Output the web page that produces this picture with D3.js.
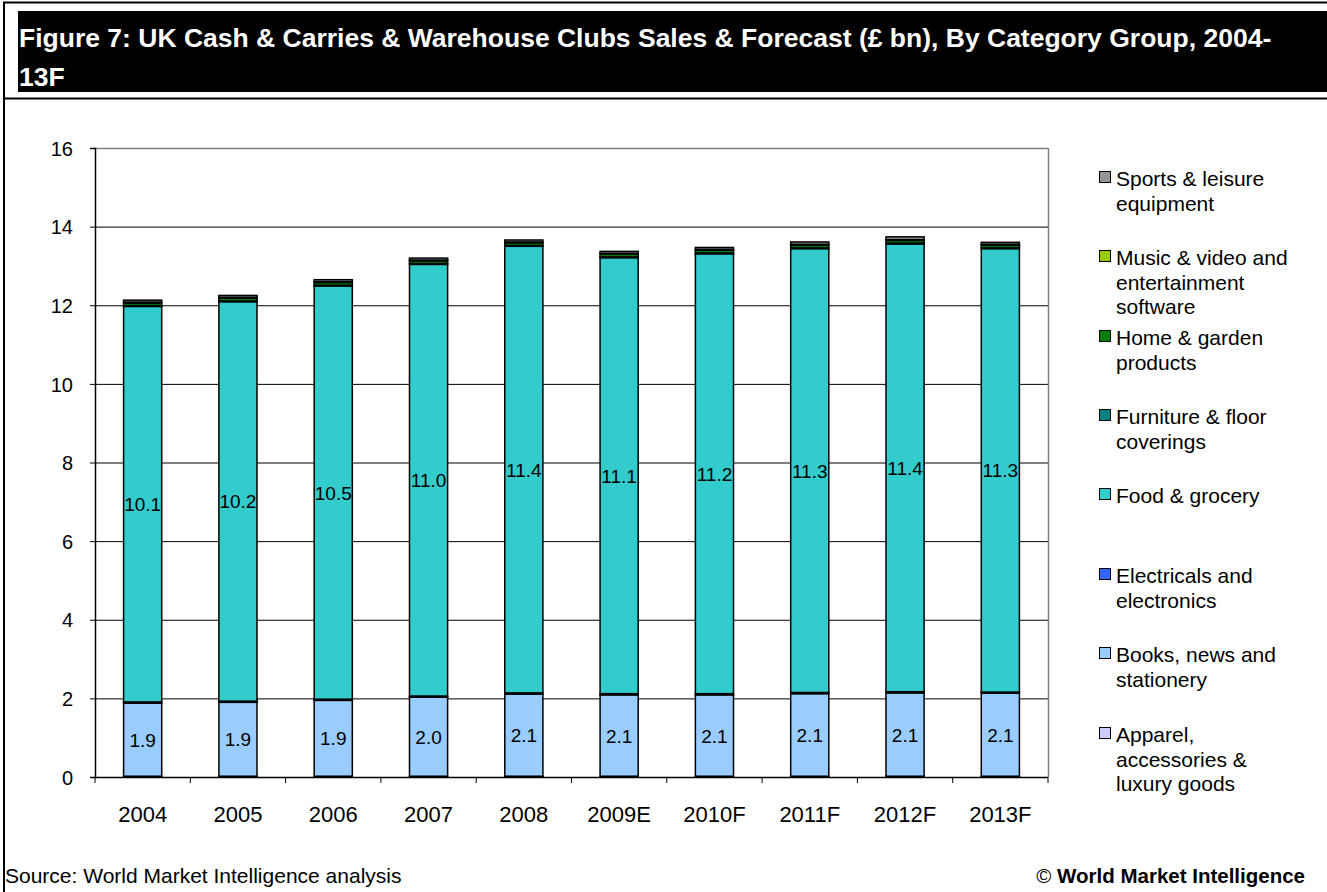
<!DOCTYPE html>
<html>
<head>
<meta charset="utf-8">
<script src="https://cdnjs.cloudflare.com/ajax/libs/d3/7.8.5/d3.min.js"></script>
<style>
  html, body { margin: 0; padding: 0; background: #fff; }
  svg { display: block; font-family: "Liberation Sans", Arial, sans-serif; }
</style>
</head>
<body>
<svg id="chart" width="1327" height="892"></svg>
<script>
// Years on the category axis
const years = ["2004", "2005", "2006", "2007", "2008", "2009E", "2010F", "2011F", "2012F", "2013F"];

// Sales by category group (£ bn), bottom of stack first
const apparel     = [0.02, 0.02, 0.02, 0.02, 0.02, 0.02, 0.02, 0.02, 0.02, 0.02];
const books       = [1.86, 1.88, 1.93, 2.01, 2.09, 2.07, 2.07, 2.10, 2.12, 2.11];
const electricals = [0.03, 0.03, 0.03, 0.03, 0.03, 0.03, 0.03, 0.03, 0.03, 0.03];
const food        = [10.06, 10.16, 10.51, 10.98, 11.36, 11.09, 11.19, 11.29, 11.39, 11.28];
const furniture   = [0.02, 0.02, 0.02, 0.02, 0.02, 0.02, 0.02, 0.02, 0.02, 0.02];
const homeGarden  = [0.07, 0.07, 0.07, 0.07, 0.07, 0.07, 0.07, 0.07, 0.07, 0.07];
const music       = [0.02, 0.02, 0.02, 0.02, 0.02, 0.02, 0.02, 0.02, 0.02, 0.02];
const sports      = [0.05, 0.05, 0.05, 0.05, 0.05, 0.05, 0.05, 0.06, 0.07, 0.05];

const yTicks = [0, 2, 4, 6, 8, 10, 12, 14, 16];

const seriesNames = [
  "Apparel, accessories & luxury goods",
  "Books, news and stationery",
  "Electricals and electronics",
  "Food & grocery",
  "Furniture & floor coverings",
  "Home & garden products",
  "Music & video and entertainment software",
  "Sports & leisure equipment"
];
const seriesValues = [apparel, books, electricals, food, furniture, homeGarden, music, sports];
const seriesColors = ["#CCCCFF", "#99CCFF", "#3366FF", "#33CCCC", "#008080", "#008000", "#99CC00", "#969696"];
// Series whose values are printed inside the bars
const labelled = [1, 3];

// Legend text, split into lines (top entry first)
const legendLines = [
  ["Sports & leisure", "equipment"],
  ["Music & video and", "entertainment", "software"],
  ["Home & garden", "products"],
  ["Furniture & floor", "coverings"],
  ["Food & grocery"],
  ["Electricals and", "electronics"],
  ["Books, news and", "stationery"],
  ["Apparel,", "accessories &", "luxury goods"]
];

const svg = d3.select("#chart");

// Outer frame
svg.append("path")
  .attr("d", "M4,892 V2.5 H1327 M4,98.5 H1327")
  .attr("fill", "none").attr("stroke", "#000").attr("stroke-width", 2);

// Title bar
svg.append("rect").attr("x", 18).attr("y", 11).attr("width", 1309).attr("height", 81).attr("fill", "#000");
const titleLines = [
  "Figure 7: UK Cash & Carries & Warehouse Clubs Sales & Forecast (£ bn), By Category Group, 2004-",
  "13F"
];
svg.append("g").selectAll("text").data(titleLines).join("text")
  .attr("x", 19).attr("y", (d, i) => 47 + i * 39)
  .attr("fill", "#fff").attr("font-weight", "bold").attr("font-size", 26.5)
  .text(d => d);

// Plot geometry
const plotLeft = 95, plotRight = 1048, plotTop = 148, plotBottom = 777;

const x = d3.scaleBand().domain(years).range([plotLeft, plotRight]).paddingInner(0.6).paddingOuter(0.3);
const y = d3.scaleLinear().domain([0, 16]).range([plotBottom, plotTop]);

// Horizontal gridlines
svg.append("g").selectAll("line").data(yTicks.filter(t => t > 0)).join("line")
  .attr("x1", plotLeft).attr("x2", plotRight)
  .attr("y1", d => y(d) + 0.5).attr("y2", d => y(d) + 0.5)
  .attr("stroke", "#000").attr("stroke-width", 1);

// Plot area border (top and right)
svg.append("line").attr("x1", plotRight + 0.5).attr("x2", plotRight + 0.5).attr("y1", plotTop).attr("y2", plotBottom)
  .attr("stroke", "#808080").attr("stroke-width", 1.5);
svg.append("line").attr("x1", plotLeft).attr("x2", plotRight).attr("y1", plotTop + 0.5).attr("y2", plotTop + 0.5)
  .attr("stroke", "#808080").attr("stroke-width", 1.5);

// Stacked data
const rows = years.map((yr, i) => {
  const r = { year: yr };
  seriesNames.forEach((n, s) => r[n] = seriesValues[s][i]);
  return r;
});
const stacked = d3.stack().keys(seriesNames)(rows);

const barG = svg.append("g");
stacked.forEach((layer, s) => {
  barG.append("g").selectAll("rect").data(layer).join("rect")
    .attr("x", d => x(d.data.year))
    .attr("y", d => y(d[1]))
    .attr("width", x.bandwidth())
    .attr("height", d => y(d[0]) - y(d[1]))
    .attr("fill", seriesColors[s])
    .attr("stroke", "#000").attr("stroke-width", 1.5);
});

// Value labels
labelled.forEach(s => {
  const key = seriesNames[s];
  svg.append("g").selectAll("text").data(stacked[s]).join("text")
    .attr("x", d => x(d.data.year) + x.bandwidth() / 2)
    .attr("y", d => (y(d[0]) + y(d[1])) / 2 + 7)
    .attr("text-anchor", "middle").attr("font-size", 19).attr("fill", "#000")
    .text(d => d3.format(".1f")(d.data[key]));
});

// Y axis
const yAxis = d3.axisLeft(y).tickValues(yTicks).tickSize(5).tickPadding(17).tickFormat(d3.format("d"));
const yG = svg.append("g").attr("transform", `translate(${plotLeft},0)`).call(yAxis);
yG.select(".domain").attr("stroke", "#000").attr("stroke-width", 1.5);
yG.selectAll(".tick line").attr("stroke", "#000");
yG.selectAll(".tick text").attr("font-size", 20).attr("font-family", "Liberation Sans, Arial, sans-serif")
  .attr("fill", "#000").attr("dy", "0.36em");

// X axis: ticks between categories
const xG = svg.append("g");
xG.append("line").attr("x1", plotLeft).attr("x2", plotRight).attr("y1", plotBottom + 0.5).attr("y2", plotBottom + 0.5)
  .attr("stroke", "#000").attr("stroke-width", 1.5);
const step = x.step();
xG.selectAll("line.tk").data(d3.range(years.length + 1)).join("line").attr("class", "tk")
  .attr("x1", i => plotLeft + i * step).attr("x2", i => plotLeft + i * step)
  .attr("y1", plotBottom).attr("y2", plotBottom + 6)
  .attr("stroke", "#000").attr("stroke-width", 1);
xG.selectAll("text").data(years).join("text")
  .attr("x", d => x(d) + x.bandwidth() / 2)
  .attr("y", 822)
  .attr("text-anchor", "middle").attr("font-size", 22).attr("fill", "#000")
  .text(d => d);

// Legend (top entry = last series); baselines of each entry's first line
const legendBaselines = [186, 265, 345, 424, 503, 583, 662, 742];
const legG = svg.append("g");
legendLines.forEach((lines, k) => {
  const s = seriesNames.length - 1 - k;
  const ty = legendBaselines[k];
  legG.append("rect")
    .attr("x", 1099.5).attr("y", ty - 14.5).attr("width", 11).attr("height", 11)
    .attr("fill", seriesColors[s]).attr("stroke", "#000").attr("stroke-width", 1);
  lines.forEach((ln, j) => {
    legG.append("text").attr("x", 1116).attr("y", ty + j * 24.5)
      .attr("font-size", 21).attr("fill", "#000").text(ln);
  });
});

// Footer
svg.append("text").attr("x", 5).attr("y", 883).attr("font-size", 21).attr("fill", "#000")
  .text("Source: World Market Intelligence analysis");
const foot = svg.append("text").attr("x", 1305).attr("y", 883).attr("text-anchor", "end")
  .attr("font-size", 20.5).attr("fill", "#000");
foot.append("tspan").text("© ");
foot.append("tspan").attr("font-weight", "bold").text("World Market Intelligence");
</script>
</body>
</html>
